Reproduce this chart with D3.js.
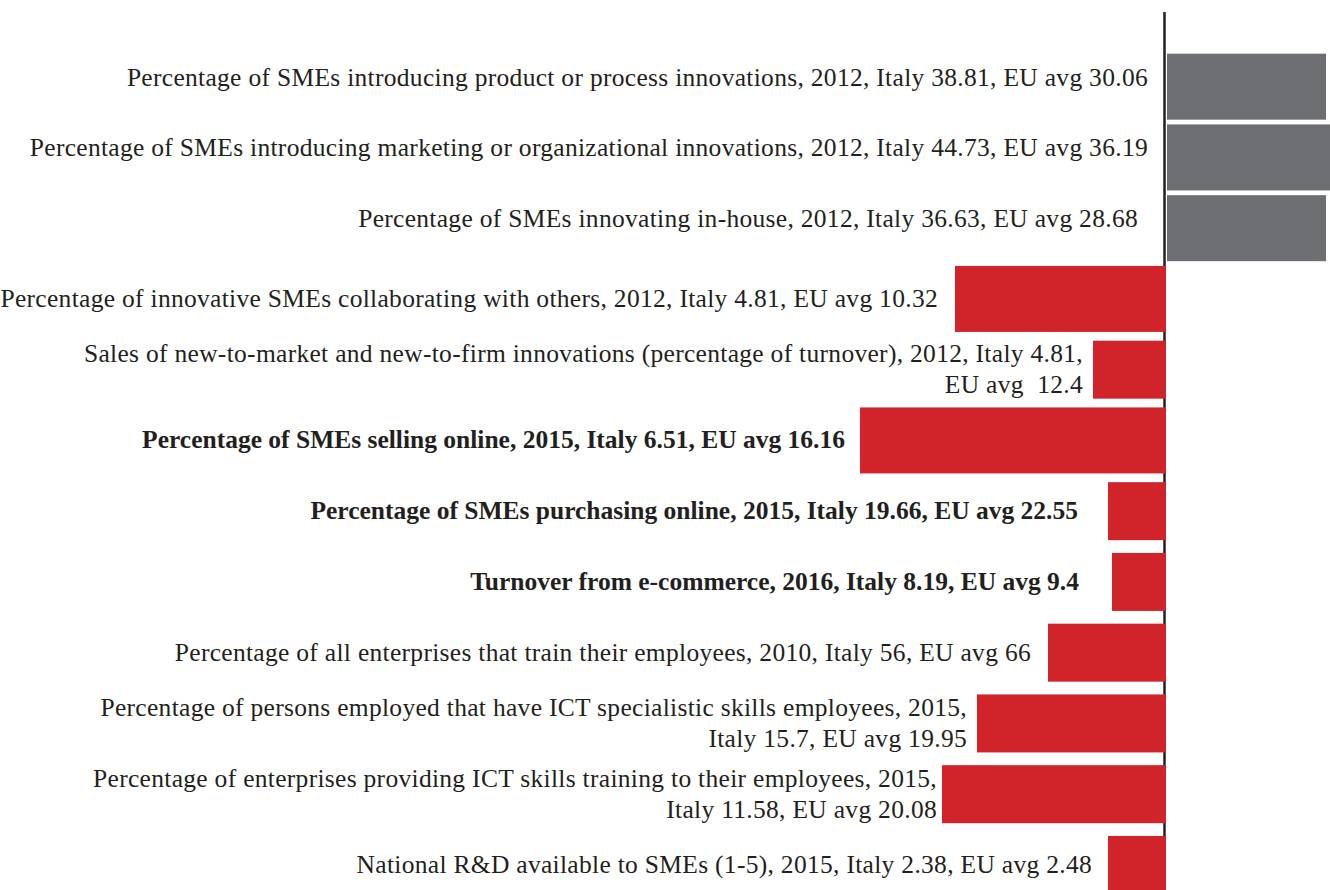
<!DOCTYPE html>
<html>
<head>
<meta charset="utf-8">
<script src="https://cdn.jsdelivr.net/npm/d3@7"></script>
<style>
  html, body { margin: 0; padding: 0; background: #ffffff; }
  svg { display: block; }
  text { white-space: pre; }
</style>
</head>
<body>
<svg id="chart" width="1330" height="890"></svg>
<script>
// Indicator labels (line breaks mark wrapped labels)
const indicators = [
  "Percentage of SMEs introducing product or process innovations, 2012, Italy 38.81, EU avg 30.06",
  "Percentage of SMEs introducing marketing or organizational innovations, 2012, Italy 44.73, EU avg 36.19",
  "Percentage of SMEs innovating in-house, 2012, Italy 36.63, EU avg 28.68",
  "Percentage of innovative SMEs collaborating with others, 2012, Italy 4.81, EU avg 10.32",
  "Sales of new-to-market and new-to-firm innovations (percentage of turnover), 2012, Italy 4.81,\nEU avg  12.4",
  "Percentage of SMEs selling online, 2015, Italy 6.51, EU avg 16.16",
  "Percentage of SMEs purchasing online, 2015, Italy 19.66, EU avg 22.55",
  "Turnover from e-commerce, 2016, Italy 8.19, EU avg 9.4",
  "Percentage of all enterprises that train their employees, 2010, Italy 56, EU avg 66",
  "Percentage of persons employed that have ICT specialistic skills employees, 2015,\nItaly 15.7, EU avg 19.95",
  "Percentage of enterprises providing ICT skills training to their employees, 2015,\nItaly 11.58, EU avg 20.08",
  "National R&D available to SMEs (1-5), 2015, Italy 2.38, EU avg 2.48"
];

// Italy's standing relative to the EU average (positive = above average)
const gapScores = [16.0, 16.4, 16.0, -21.1, -7.3, -30.6, -5.8, -5.4, -11.8, -18.9, -22.4, -5.8];

// Rows set in bold
const emphasised = new Set([5, 6, 7]);
// Rows drawn with the thicker bar
const thickRows = new Set([0, 1, 2, 3, 5]);
// Space between each label and its bar (or the zero line)
const labelPad = [18, 18, 28, 17, 10, 15, 30, 33, 17, 10, 5, 16];

const rows = indicators.map((label, i) => ({ i, label, value: gapScores[i] }));

const svg = d3.select("#chart");
const GREY = "#6d6e71";
const RED = "#d0232a";
const INK = "#231f20";

const x = d3.scaleLinear()
  .domain([d3.min(gapScores), d3.max(gapScores)])
  .range([860, 1330]);

const y = d3.scaleBand()
  .domain(d3.range(indicators.length))
  .range([51.3, 900.3])
  .padding(0);

const x0 = x(0);

// Zero line
svg.append("line")
  .attr("x1", x0 - 1.5).attr("x2", x0 - 1.5)
  .attr("y1", 12).attr("y2", 890)
  .attr("stroke", INK)
  .attr("stroke-width", 2.5);

// Bars
svg.append("g").selectAll("rect")
  .data(rows)
  .join("rect")
  .attr("x", d => d.value > 0 ? x0 + 1 : x(d.value))
  .attr("width", d => d.value > 0 ? x(d.value) - x0 - 1 : x0 - x(d.value))
  .attr("y", d => {
    const h = thickRows.has(d.i) ? 66 : 58;
    return y(d.i) + y.bandwidth() / 2 - h / 2;
  })
  .attr("height", d => thickRows.has(d.i) ? 66 : 58)
  .attr("fill", d => d.value > 0 ? GREY : RED);

// Labels, right-aligned against each bar
const lineGap = 31;
const labels = svg.append("g")
  .attr("font-family", "'Liberation Serif', 'Times New Roman', serif")
  .attr("font-size", 25.5)
  .attr("fill", INK)
  .attr("text-anchor", "end");

labels.selectAll("text")
  .data(rows)
  .join("text")
  .attr("font-weight", d => emphasised.has(d.i) ? "bold" : "normal")
  .attr("letter-spacing", d => emphasised.has(d.i) ? 0 : 0.3)
  .attr("x", d => Math.min(x0, x(d.value)) - labelPad[d.i])
  .attr("y", d => y(d.i) + y.bandwidth() / 2 + (d.value > 0 ? -1 : 8))
  .each(function (d) {
    const lines = d.label.split("\n");
    const t = d3.select(this);
    const xx = +t.attr("x");
    const start = -(lines.length - 1) * lineGap / 2;
    lines.forEach((ln, k) => {
      t.append("tspan")
        .attr("x", xx)
        .attr("dy", k === 0 ? start : lineGap)
        .text(ln);
    });
  });
</script>
</body>
</html>
